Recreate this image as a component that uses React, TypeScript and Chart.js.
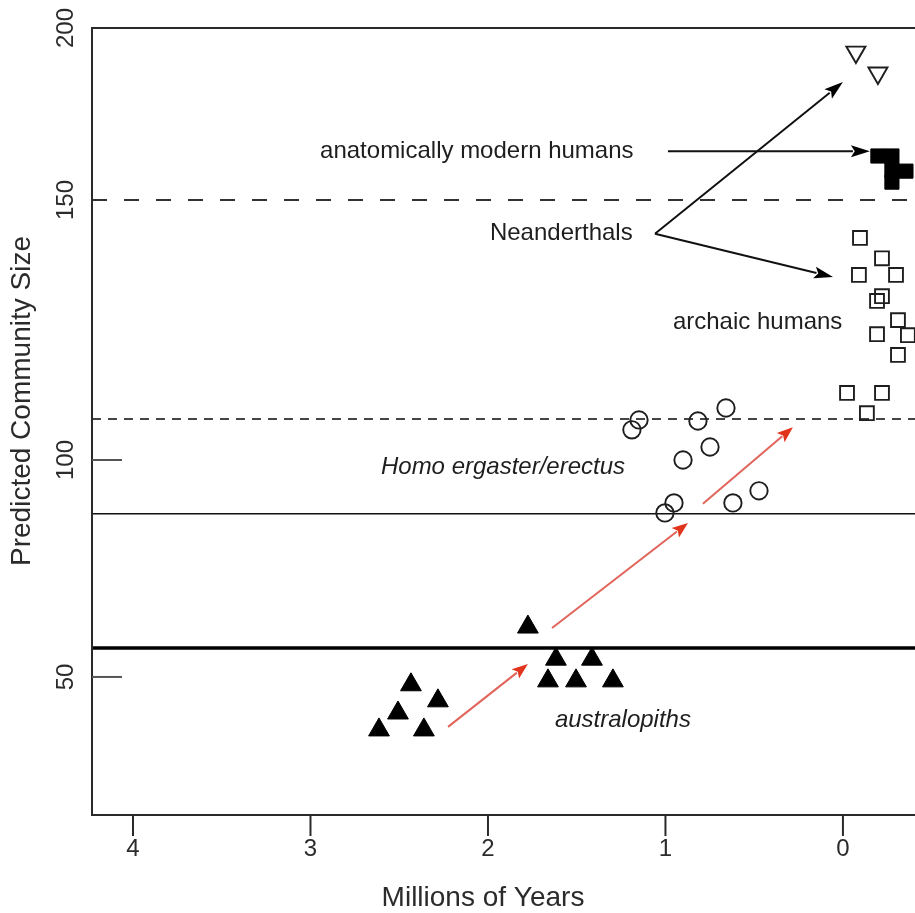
import React, { useEffect, useRef } from 'react';
import { Chart, registerables, LinearScale } from 'chart.js';

// ---------- data ----------
const X_TICKS = [4, 3, 2, 1, 0];
const X_TICK_LABELS = ['4', '3', '2', '1', '0'];
const Y_TICKS = [50, 100, 150, 200];
const Y_TICK_LABELS = ['50', '100', '150', '200'];
const Y_TICK_MARKS = [50, 100];
const X_MIN = -0.406;
const X_MAX = 4.231;
const Y_MIN = 18.2;
const Y_MAX = 200;
// the figure's vertical axis is not evenly spaced: value breakpoints and their axis fractions
const Y_AXIS_VALUES = [18.2, 50, 100, 150, 200];
const Y_AXIS_FRACTIONS = [0, 0.1754, 0.4511, 0.7814, 1];

const australopithsX = [1.775, 1.617, 1.414, 1.662, 1.504, 1.296, 2.434, 2.282, 2.507, 2.614, 2.361];
const australopithsY = [61.5, 54.1, 54.1, 49.1, 49.1, 49.1, 48.2, 44.5, 41.7, 37.8, 37.8];

const erectusX = [1.189, 1.149, 0.817, 0.659, 0.901, 0.749, 1.003, 0.952, 0.62, 0.473];
const erectusY = [105.8, 107.7, 107.5, 110.0, 100.0, 102.5, 87.8, 90.1, 90.1, 92.9];

const archaicX = [-0.096, -0.09, -0.22, -0.299, -0.192, -0.22, -0.31, -0.192, -0.366, -0.31, -0.023, -0.22, -0.135];
const archaicY = [142.7, 135.6, 138.8, 135.6, 130.6, 131.5, 126.9, 124.2, 124.0, 120.2, 112.9, 112.9, 109.0];

const modernX = [-0.197, -0.276, -0.276, -0.276, -0.355];
const modernY = [162.8, 162.8, 158.7, 155.2, 158.4];

const neanderthalX = [-0.073, -0.197];
const neanderthalY = [193.0, 186.9];

const LEVELS = [150, 107.9, 87.6, 56.7];

const NOTE_TEXTS = ['anatomically modern humans', 'Neanderthals', 'archaic humans', 'Homo ergaster/erectus', 'australopiths'];
const NOTE_X = [2.946, 1.989, 0.958, 2.603, 1.623];
const NOTE_Y = [164.0, 143.5, 126.5, 98.2, 40.1];
const NOTE_ITALIC = [false, false, false, true, true];

// [x1, y1, x2, y2]
const BLACK_ARROWS = [
  [0.986, 164.2, -0.152, 164.2],
  [1.059, 143.5, 0.0, 184.3],
  [1.059, 143.5, 0.056, 135.2],
];
const RED_ARROWS = [
  [2.225, 38.5, 1.775, 53.0],
  [1.639, 61.3, 0.873, 85.5],
  [0.789, 89.9, 0.282, 106.3],
];

const X_TITLE = 'Millions of Years';
const Y_TITLE = 'Predicted Community Size';

// ---------- helpers ----------
const FONT = "'Liberation Sans', Arial, Helvetica, sans-serif";

function valueToFraction(v: number): number {
  const vs = Y_AXIS_VALUES, fs = Y_AXIS_FRACTIONS;
  let i = 0;
  if (v <= vs[0]) i = 0;
  else if (v >= vs[vs.length - 1]) i = vs.length - 2;
  else { while (i < vs.length - 2 && v > vs[i + 1]) i++; }
  const t = (v - vs[i]) / (vs[i + 1] - vs[i]);
  return fs[i] + t * (fs[i + 1] - fs[i]);
}
function fractionToValue(f: number): number {
  const vs = Y_AXIS_VALUES, fs = Y_AXIS_FRACTIONS;
  let i = 0;
  if (f <= fs[0]) i = 0;
  else if (f >= fs[fs.length - 1]) i = fs.length - 2;
  else { while (i < fs.length - 2 && f > fs[i + 1]) i++; }
  const t = (f - fs[i]) / (fs[i + 1] - fs[i]);
  return vs[i] + t * (vs[i + 1] - vs[i]);
}

class PiecewiseScale extends LinearScale {
  static id = 'piecewise';
  static defaults = LinearScale.defaults;
  getPixelForValue(value: any) {
    if (value === null || value === undefined || isNaN(value)) return NaN;
    return this.getPixelForDecimal(valueToFraction(value));
  }
  getValueForPixel(pixel: number) {
    return fractionToValue(this.getDecimalForPixel(pixel));
  }
}

Chart.register(...registerables, PiecewiseScale as any);

const zip = (xs: number[], ys: number[]) => xs.map((x, i) => ({ x, y: ys[i] }));

function drawArrow(ctx: CanvasRenderingContext2D, x1: number, y1: number, x2: number, y2: number,
  lineColor: string, headColor: string, lw: number, headLen: number, headW: number) {
  const ang = Math.atan2(y2 - y1, x2 - x1);
  const bx = x2 - Math.cos(ang) * headLen;
  const by = y2 - Math.sin(ang) * headLen;
  ctx.save();
  ctx.strokeStyle = lineColor;
  ctx.lineWidth = lw;
  ctx.beginPath();
  ctx.moveTo(x1, y1);
  ctx.lineTo(bx + Math.cos(ang) * 2, by + Math.sin(ang) * 2);
  ctx.stroke();
  ctx.fillStyle = headColor;
  ctx.beginPath();
  ctx.moveTo(x2, y2);
  ctx.lineTo(bx + Math.sin(ang) * headW / 2, by - Math.cos(ang) * headW / 2);
  ctx.lineTo(x2 - Math.cos(ang) * headLen * 0.8, y2 - Math.sin(ang) * headLen * 0.8);
  ctx.lineTo(bx - Math.sin(ang) * headW / 2, by + Math.cos(ang) * headW / 2);
  ctx.closePath();
  ctx.fill();
  ctx.restore();
}

const decorPlugin = {
  id: 'decor',
  afterDraw(chart: any) {
    const ctx: CanvasRenderingContext2D = chart.ctx;
    const xs = chart.scales.x;
    const ys = chart.scales.y;
    const a = chart.chartArea;
    ctx.save();
    // frame
    ctx.strokeStyle = '#2a2a2a';
    ctx.lineWidth = 2;
    ctx.beginPath();
    ctx.moveTo(chart.width + 2, a.top);
    ctx.lineTo(a.left, a.top);
    ctx.lineTo(a.left, a.bottom);
    ctx.lineTo(chart.width + 2, a.bottom);
    ctx.stroke();

    // y ticks (inside) and rotated labels
    ctx.strokeStyle = '#555';
    ctx.lineWidth = 2;
    ctx.fillStyle = '#2b2b2b';
    ctx.font = `24px ${FONT}`;
    ctx.textAlign = 'center';
    ctx.textBaseline = 'middle';
    Y_TICK_MARKS.forEach((v) => {
      const py = ys.getPixelForValue(v);
      ctx.beginPath();
      ctx.moveTo(a.left, py);
      ctx.lineTo(a.left + 30, py);
      ctx.stroke();
    });
    Y_TICKS.forEach((v, i) => {
      const py = ys.getPixelForValue(v);
      ctx.save();
      ctx.translate(66, py);
      ctx.rotate(-Math.PI / 2);
      ctx.fillText(Y_TICK_LABELS[i], 0, 0);
      ctx.restore();
    });

    // x ticks below
    ctx.strokeStyle = '#2a2a2a';
    X_TICKS.forEach((v, i) => {
      const px = xs.getPixelForValue(v);
      ctx.beginPath();
      ctx.moveTo(px, a.bottom);
      ctx.lineTo(px, a.bottom + 21);
      ctx.stroke();
      ctx.fillText(X_TICK_LABELS[i], px, a.bottom + 34);
    });

    // axis titles
    ctx.font = `28px ${FONT}`;
    ctx.fillText(X_TITLE, 483, 898);
    ctx.save();
    ctx.translate(22, 401);
    ctx.rotate(-Math.PI / 2);
    ctx.fillText(Y_TITLE, 0, 0);
    ctx.restore();

    // annotations
    ctx.fillStyle = '#1e1e1e';
    ctx.textAlign = 'left';
    NOTE_TEXTS.forEach((t, i) => {
      ctx.font = `${NOTE_ITALIC[i] ? 'italic ' : ''}24px ${FONT}`;
      ctx.fillText(t, xs.getPixelForValue(NOTE_X[i]), ys.getPixelForValue(NOTE_Y[i]));
    });

    BLACK_ARROWS.forEach(([x1, y1, x2, y2]) => {
      drawArrow(ctx, xs.getPixelForValue(x1), ys.getPixelForValue(y1), xs.getPixelForValue(x2), ys.getPixelForValue(y2),
        '#111', '#000', 2, 19, 12);
    });
    RED_ARROWS.forEach(([x1, y1, x2, y2]) => {
      drawArrow(ctx, xs.getPixelForValue(x1), ys.getPixelForValue(y1), xs.getPixelForValue(x2), ys.getPixelForValue(y2),
        '#e0645a', '#e2341c', 2, 16, 12);
    });
    ctx.restore();
  },
};

export default function App() {
  const ref = useRef<HTMLCanvasElement | null>(null);
  useEffect(() => {
    if (!ref.current) return;
    const levelStyles = [
      { borderDash: [15, 17], borderWidth: 2, borderColor: '#333' },
      { borderDash: [9, 7], borderWidth: 2, borderColor: '#444' },
      { borderDash: [], borderWidth: 1.6, borderColor: '#111' },
      { borderDash: [], borderWidth: 3.5, borderColor: '#000' },
    ];
    const chart = new Chart(ref.current, {
      type: 'scatter',
      data: {
        datasets: [
          {
            label: 'australopiths', data: zip(australopithsX, australopithsY),
            pointStyle: 'triangle', pointRadius: 12, backgroundColor: '#000', borderColor: '#000', borderWidth: 1,
          },
          {
            label: 'Homo ergaster/erectus', data: zip(erectusX, erectusY),
            pointStyle: 'circle', pointRadius: 8.7, backgroundColor: 'rgba(0,0,0,0)', borderColor: '#1e1e1e', borderWidth: 1.9,
          },
          {
            label: 'archaic humans', data: zip(archaicX, archaicY),
            pointStyle: 'rect', pointRadius: 9.8, backgroundColor: 'rgba(0,0,0,0)', borderColor: '#1e1e1e', borderWidth: 1.9,
          },
          {
            label: 'anatomically modern humans', data: zip(modernX, modernY),
            pointStyle: 'rect', pointRadius: 10, backgroundColor: '#000', borderColor: '#000', borderWidth: 1,
          },
          {
            label: 'Neanderthals', data: zip(neanderthalX, neanderthalY),
            pointStyle: 'triangle', rotation: 180, pointRadius: 11, backgroundColor: 'rgba(0,0,0,0)', borderColor: '#1e1e1e', borderWidth: 1.9,
          } as any,
          ...LEVELS.map((v, i) => ({
            label: 'level ' + v,
            data: [{ x: X_MAX, y: v }, { x: X_MIN, y: v }],
            showLine: true, pointRadius: 0, fill: false,
            ...levelStyles[i],
          })),
        ],
      },
      options: {
        animation: false,
        responsive: false,
        maintainAspectRatio: false,
        events: [],
        layout: { autoPadding: false, padding: { left: 92, top: 28, right: 0, bottom: 98 } },
        plugins: { legend: { display: false }, tooltip: { enabled: false } },
        scales: {
          x: { type: 'linear', display: false, reverse: true, min: X_MIN, max: X_MAX },
          y: { type: 'piecewise' as any, display: false, min: Y_MIN, max: Y_MAX },
        },
      },
      plugins: [decorPlugin],
    });
    return () => chart.destroy();
  }, []);
  return (
    <div style={{ position: 'absolute', left: 0, top: 0, width: 915, height: 913, background: '#fff' }}>
      <canvas ref={ref} width={915} height={913} style={{ width: 915, height: 913, display: 'block' }} />
    </div>
  );
}
